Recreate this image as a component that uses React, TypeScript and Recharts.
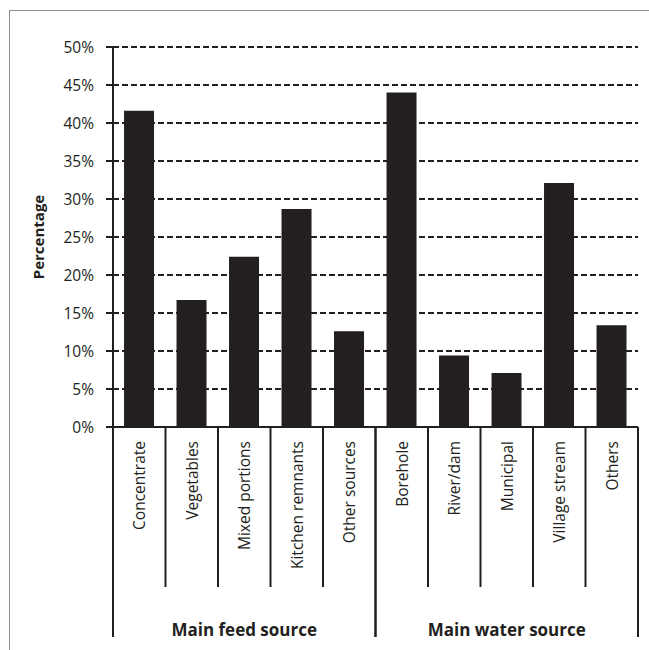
import React from "react";
import { Bar, BarChart, CartesianGrid, XAxis, YAxis } from "recharts";

const categories = [
  "Concentrate",
  "Vegetables",
  "Mixed portions",
  "Kitchen remnants",
  "Other sources",
  "Borehole",
  "River/dam",
  "Municipal",
  "Village stream",
  "Others",
];
const percentages = [41.6, 16.7, 22.4, 28.7, 12.6, 44.0, 9.4, 7.1, 32.1, 13.4];
const groups = ["Main feed source", "Main water source"];
const groupSize = 5;
const yTicks = [0, 5, 10, 15, 20, 25, 30, 35, 40, 45, 50];

const data = categories.map((name, i) => ({ name, value: percentages[i] }));

const W = 649;
const H = 650;
const MARGIN = { top: 47, right: 11, bottom: 8, left: 0 };
const Y_AXIS_W = 113;
const X_AXIS_H = 215;
const BAND = (W - MARGIN.left - MARGIN.right - Y_AXIS_W) / categories.length;
const INK = "#231f20";
const FONT = "'Open Sans', Calibri, sans-serif";

function CategoryTick(props: any) {
  const { x, y, payload, index } = props;
  const left = x - BAND / 2;
  const right = x + BAND / 2;
  const isGroupStart = index % groupSize === 0;
  const isGroupEnd = index % groupSize === groupSize - 1;
  return (
    <g>
      <line
        x1={left}
        x2={left}
        y1={y}
        y2={y + (isGroupStart ? 210 : 160)}
        stroke={INK}
        strokeWidth={2}
      />
      {isGroupEnd && (
        <line x1={right} x2={right} y1={y} y2={y + 210} stroke={INK} strokeWidth={2} />
      )}
      <text
        transform={`translate(${x},${y + 14}) rotate(-90)`}
        textAnchor="end"
        dominantBaseline="central"
        fontFamily={FONT}
        fontSize={15.5}
        fill={INK}
      >
        {payload.value}
      </text>
      {index % groupSize === Math.floor(groupSize / 2) && (
        <text
          x={x}
          y={y + 209}
          textAnchor="middle"
          fontFamily={FONT}
          fontSize={17}
          fontWeight="bold"
          fill={INK}
        >
          {groups[Math.floor(index / groupSize)]}
        </text>
      )}
    </g>
  );
}

function YLabel(props: any) {
  const vb = props.viewBox;
  const cx = vb.x + 38;
  const cy = vb.y + vb.height / 2;
  return (
    <text
      transform={`translate(${cx},${cy}) rotate(-90)`}
      textAnchor="middle"
      dominantBaseline="central"
      fontFamily={FONT}
      fontSize={15}
      fontWeight="bold"
      fill={INK}
    >
      Percentage
    </text>
  );
}

export default function App() {
  return (
    <div
      style={{
        position: "absolute",
        left: 0,
        top: 0,
        width: W,
        height: H,
        background: "#fff",
        overflow: "hidden",
      }}
    >
      <div
        style={{
          position: "absolute",
          left: 9,
          top: 10,
          right: -2,
          bottom: -2,
          borderTop: "1.5px solid #8f8f8f",
          borderLeft: "1.5px solid #8f8f8f",
        }}
      />
      <div style={{ position: "absolute", left: 0, top: 0 }}>
        <BarChart width={W} height={H} data={data} margin={MARGIN} barCategoryGap="21%">
          <CartesianGrid
            vertical={false}
            stroke="#231f20"
            strokeWidth={2}
            strokeDasharray="6 3"
          />
          <XAxis
            dataKey="name"
            height={X_AXIS_H}
            interval={0}
            tickLine={false}
            tickSize={0}
            tickMargin={0}
            axisLine={{ stroke: INK, strokeWidth: 2 }}
            tick={<CategoryTick />}
          />
          <YAxis
            width={Y_AXIS_W}
            domain={[0, 50]}
            ticks={yTicks}
            interval={0}
            tickFormatter={(v: number) => `${v}%`}
            tickSize={7}
            tickMargin={12}
            tickLine={{ stroke: INK, strokeWidth: 2 }}
            axisLine={{ stroke: INK, strokeWidth: 2 }}
            tick={{ fill: INK, fontSize: 15.5, fontFamily: FONT }}
            label={YLabel}
          />
          <Bar dataKey="value" fill={INK} isAnimationActive={false} />
        </BarChart>
      </div>
    </div>
  );
}
